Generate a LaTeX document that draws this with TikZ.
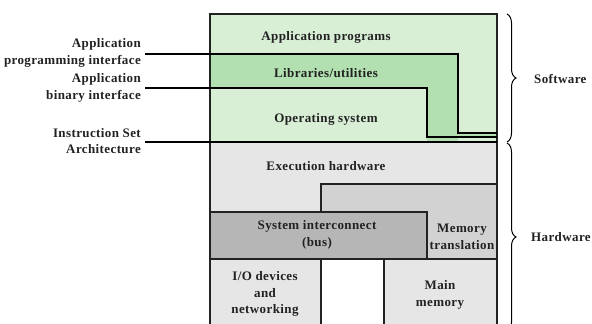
\documentclass[tikz,border=0pt]{standalone}
\usepackage{fontspec}
\setmainfont{Liberation Serif}[LetterSpace=3]
\usetikzlibrary{decorations.pathreplacing}
\definecolor{lgreen}{HTML}{D8EFD6}
\definecolor{mgreen}{HTML}{B2E0B0}
\definecolor{lgrey}{HTML}{E6E6E6}
\definecolor{mgrey}{HTML}{D2D2D2}
\definecolor{dgrey}{HTML}{B6B6B6}
\definecolor{ink}{HTML}{222222}
\begin{document}
\begin{tikzpicture}[x=1pt,y=-1pt,
  lbl/.style={font=\fontsize{13}{16.5}\selectfont\bfseries, text=ink, align=center, inner sep=0pt},
  lbll/.style={lbl, align=right, anchor=east},
  box/.style={draw=ink, line width=1.2pt},
  iface/.style={draw=black, line width=2pt},
  brc/.style={draw=black, line width=1pt, decorate, decoration={brace, amplitude=9pt}}]
\useasboundingbox (0,0) rectangle (592,324);
\clip (0,0) rectangle (592,324);
% software
\fill[lgreen] (210,14) rectangle (497,142);
\fill[mgreen] (210,54) -- (458,54) -- (458,133) -- (497,133) -- (497,137) -- (458,137) -- (458,142) -- (427,142) -- (427,88) -- (210,88) -- cycle;
% hardware
\draw[box, fill=lgrey] (210,142) rectangle (497,259);
\draw[box, fill=mgrey] (321,184) rectangle (497,259);
\draw[box, fill=dgrey] (210,212) rectangle (427,259);
\draw[box, fill=lgrey] (210,259) rectangle (321,334);
\draw[box, fill=lgrey] (384,259) rectangle (497,334);
\draw[box] (210,142) -- (210,14) -- (497,14) -- (497,142);
% interface lines
\draw[iface] (145,54) -- (458,54) -- (458,133) -- (497,133);
\draw[iface] (145,88) -- (427,88) -- (427,137) -- (497,137);
\draw[iface] (145,142) -- (497,142);
% labels
\node[lbll] (api) at (141,53) {Application\\programming interface};
\node[lbll] (abi) at (141,88) {Application\\binary interface};
\node[lbll] (isa) at (141,141) {Instruction Set\\Architecture};
\node[lbl] (app) at (326,37) {Application programs};
\node[lbl] (lib) at (326,73) {Libraries/utilities};
\node[lbl] (os) at (326,119) {Operating system};
\node[lbl] (exe) at (326,166) {Execution hardware};
\node[lbl] (bus) at (317,235) {System interconnect\\(bus)};
\node[lbl] (mt) at (462,237) {Memory\\translation};
\node[lbl] (io) at (265,294) {I/O devices\\and\\networking};
\node[lbl] (mm) at (440,295) {Main\\memory};
% braces
\draw[brc] (507,14) -- (507,142);
\draw[brc] (507,143) -- (507,331);
\node[lbl, anchor=west] (sw) at (534,79) {Software};
\node[lbl, anchor=west] (hw) at (531,237) {Hardware};
\end{tikzpicture}
\end{document}
